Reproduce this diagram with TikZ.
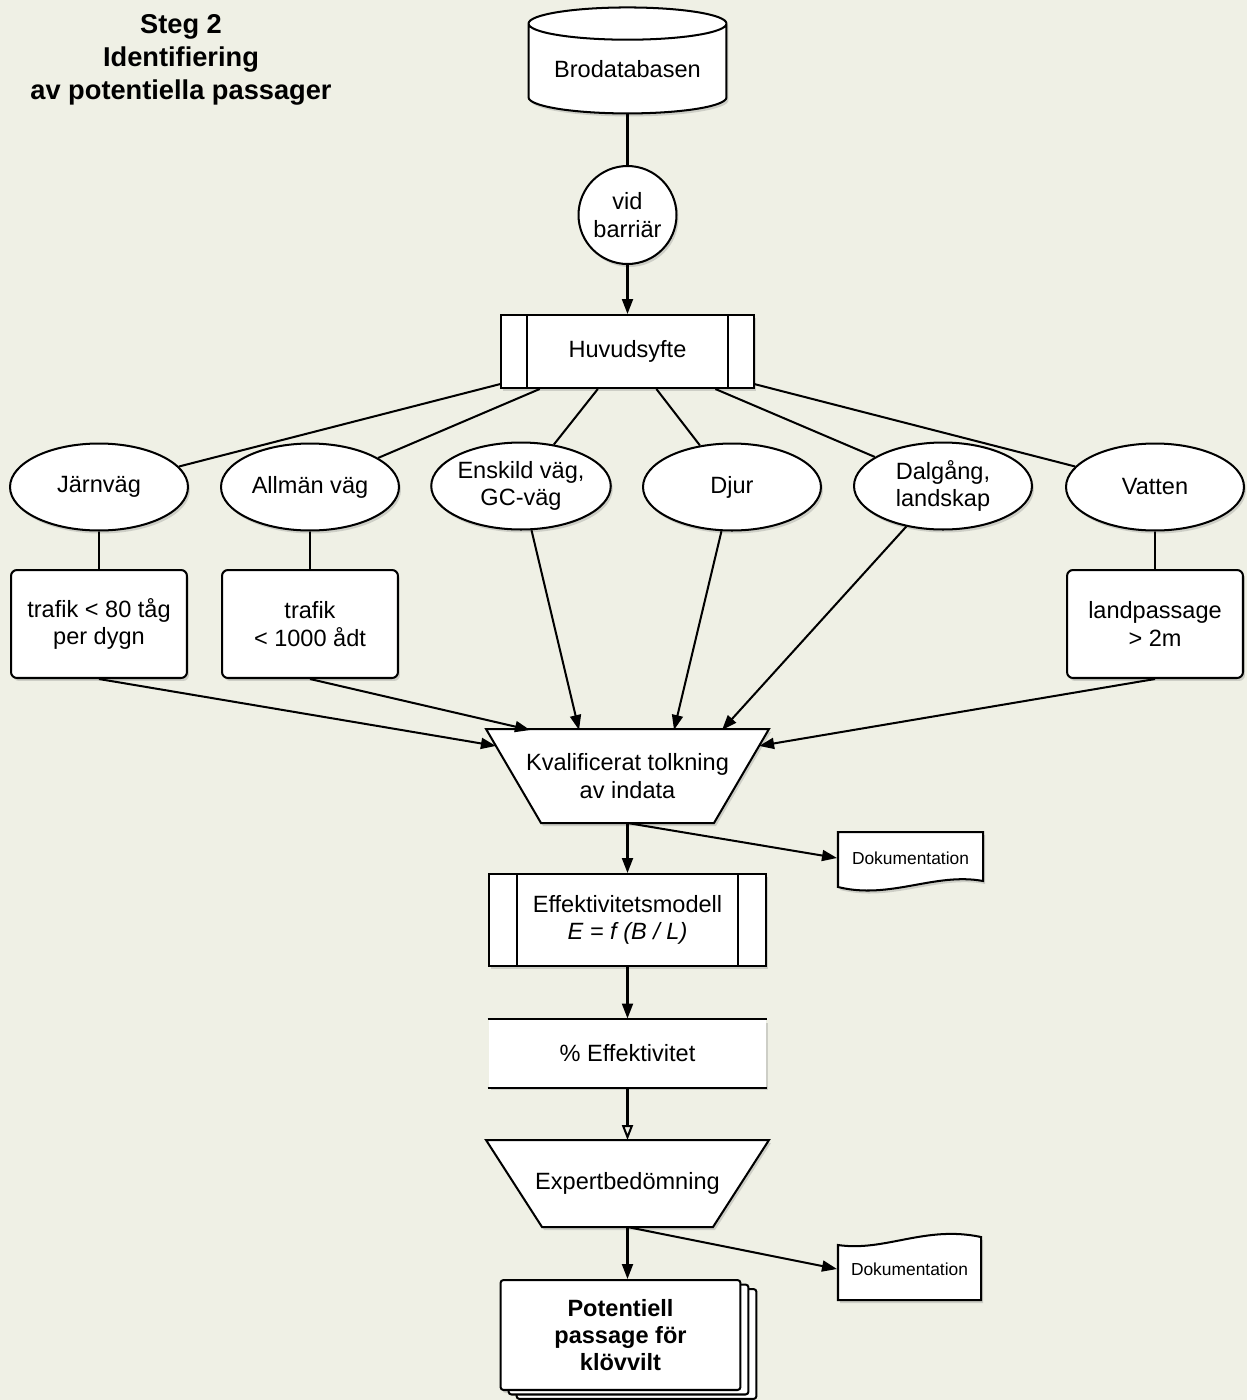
\documentclass[tikz,border=0pt]{standalone}
\usepackage{fontspec}
\setmainfont{Liberation Sans}
\usetikzlibrary{shapes.geometric,arrows.meta,shadows,calc,backgrounds}
\definecolor{bgcol}{RGB}{239,240,229}
\tikzset{dshadow/.style = {drop shadow={shadow xshift=0.04cm, shadow yshift=-0.06cm, opacity=0.3}}}
\tikzset{boxbase/.style = {draw=black, fill=white, dshadow, align=center, inner sep=0pt}}
\tikzset{db/.style = {boxbase, cylinder, shape border rotate=90, aspect=0.22, minimum width=3.96cm, minimum height=2.12cm}}
\tikzset{ellip/.style = {boxbase, ellipse, minimum width=3.56cm, minimum height=1.74cm}}
\tikzset{rbox/.style = {boxbase, rectangle, rounded corners=0.12cm, minimum width=3.52cm, minimum height=2.16cm}}
\tikzset{subproc/.style = {boxbase, rectangle, path picture={
    \draw[line width=1.15pt] ([xshift=#1]path picture bounding box.north west) -- ([xshift=#1]path picture bounding box.south west)
      ([xshift=-#1]path picture bounding box.north east) -- ([xshift=-#1]path picture bounding box.south east);}}}
\tikzset{trapnode/.style = {align=center, inner sep=0pt, minimum width=5.62cm}}
\tikzset{dok/.style = {font=\fontsize{9.9}{11.5}\selectfont, inner sep=0pt}}
\tikzset{bgshape/.style = {draw=black, fill=white, dshadow, line width=1.15pt}}

\begin{document}
\begin{tikzpicture}[x=0.02cm, y=-0.02cm, line width=1.15pt, font=\fontsize{13.4}{15.5}\selectfont,
    >={Triangle[length=0.3cm,width=0.22cm]}]
    \useasboundingbox (0,0) rectangle (1247,1400);

    \node [font=\fontsize{15.5}{18.7}\selectfont\bfseries, align=center] (title) at (181, 60) {Steg 2\\Identifiering\\av potentiella passager};

    \node [db] (bro) at (627.5, 69) {Brodatabasen};
    \node [boxbase, circle, minimum size=1.96cm] (vid) at (627.5, 215) {vid\\barriär};
    \node [subproc=0.52cm, minimum width=5.06cm, minimum height=1.46cm] (huvud) at (627.5, 351.5) {Huvudsyfte};

    \node [ellip] (jarn) at (99, 487) {Järnväg};
    \node [ellip] (allm) at (310, 487) {Allmän väg};
    \node [ellip] (ensk) at (521, 486) {Enskild väg,\\GC-väg};
    \node [ellip] (djur) at (732, 487) {Djur};
    \node [ellip] (dalg) at (943, 486) {Dalgång,\\landskap};
    \node [ellip] (vatt) at (1155, 487) {Vatten};

    \node [rbox] (jarnbox) at (99, 624) {trafik < 80 tåg\\per dygn};
    \node [rbox] (allmbox) at (310, 624) {trafik\\< 1000 ådt};
    \node [rbox] (landbox) at (1155, 624) {landpassage\\> 2m};

    \node [trapnode, minimum height=1.84cm] (kval) at (627.5, 776) {Kvalificerat tolkning\\av indata};
    \node [dok, minimum width=2.9cm] (dok1) at (910.5, 858) {Dokumentation};
    \node [subproc=0.56cm, minimum width=5.56cm, minimum height=1.84cm] (effmod) at (627.5, 920) {Effektivitetsmodell\\\textit{E = f (B / L)}};
    \node [boxbase, draw=none, minimum width=5.56cm, minimum height=1.34cm] (pct) at (627.5, 1053) {\% Effektivitet};
    \node [trapnode, minimum height=1.7cm] (expert) at (627.5, 1183.5) {Expertbedömning};
    \node [dok, minimum width=2.86cm] (dok2) at (909.5, 1269) {Dokumentation};
    \node [boxbase, rounded corners=0.06cm, double copy shadow={shadow xshift=0.16cm, shadow yshift=-0.09cm},
        minimum width=4.8cm, minimum height=2.2cm, font=\fontsize{13.4}{15.5}\selectfont\bfseries] (pot) at (620.5, 1335) {Potentiell\\passage för\\klövvilt};

    \begin{scope}[on background layer]
        \fill [bgcol] (0,0) rectangle (1247,1400);
        \draw [bgshape] (kval.north west) -- (kval.north east) -- ([xshift=-1.1cm]kval.south east) -- ([xshift=1.1cm]kval.south west) -- cycle;
        \draw [bgshape] (expert.north west) -- (expert.north east) -- ([xshift=-1.12cm]expert.south east) -- ([xshift=1.12cm]expert.south west) -- cycle;
        \draw [bgshape] (838, 832) -- (983, 832) -- (983, 881) .. controls (935, 872) and (890, 900) .. (838, 887) -- cycle;
        \draw [bgshape] (838, 1245) .. controls (885, 1252) and (925, 1225) .. (981, 1237) -- (981, 1300) -- (838, 1300) -- cycle;
    \end{scope}
    \draw (pct.north west) -- (pct.north east) (pct.south west) -- (pct.south east);

    \coordinate (kvL) at ($(kval.north west)!0.18!([xshift=1.1cm]kval.south west)$);
    \coordinate (kvR) at ($(kval.north east)!0.18!([xshift=-1.1cm]kval.south east)$);
    \coordinate (kvA) at (530, 730);
    \coordinate (kvB) at (579, 730);
    \coordinate (kvC) at (674, 730);
    \coordinate (kvD) at (722, 730);

    \draw (bro) -- (vid);
    \draw [->] (vid) -- (huvud);
    \draw (huvud) -- (jarn);
    \draw (huvud) -- (allm);
    \draw (huvud) -- (ensk);
    \draw (huvud) -- (djur);
    \draw (huvud) -- (dalg);
    \draw (huvud) -- (vatt);
    \draw (jarn) -- (jarnbox);
    \draw (allm) -- (allmbox);
    \draw (vatt) -- (landbox);

    \draw [->] (jarnbox.south) -- (kvL);
    \draw [->] (allmbox.south) -- (kvA);
    \draw [->] (ensk) -- (kvB);
    \draw [->] (djur) -- (kvC);
    \draw [->] (dalg) -- (kvD);
    \draw [->] (landbox.south) -- (kvR);

    \draw [->] (kval.south) -- (effmod);
    \draw [->] (kval.south) -- (dok1.west);
    \draw [->] (effmod) -- (pct);
    \draw [-{Triangle[open,length=0.3cm,width=0.22cm]}] (pct) -- (expert);
    \draw [->] (expert.south) -- (expert.south |- pot.north);
    \draw [->] (expert.south) -- (dok2.west);
\end{tikzpicture}
\end{document}
